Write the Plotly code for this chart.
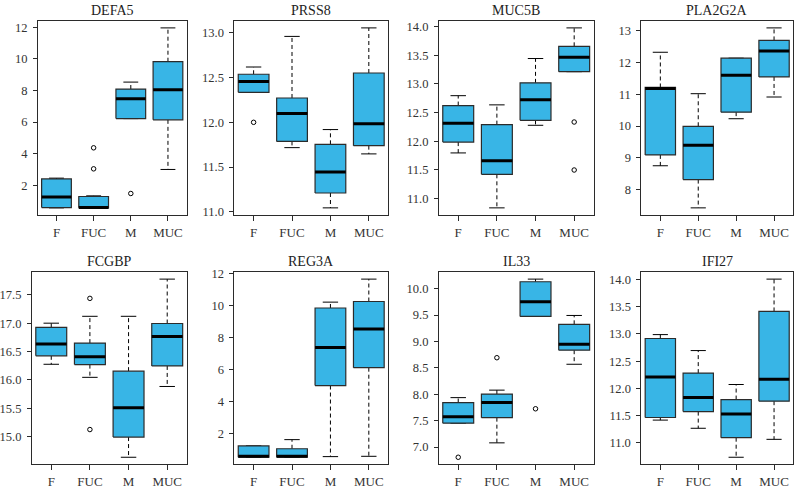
import plotly.graph_objects as go

groups = ["F", "FUC", "M", "MUC"]
genes = ["DEFA5", "PRSS8", "MUC5B", "PLA2G2A", "FCGBP", "REG3A", "IL33", "IFI27"]

# five-number summaries per group: [lower whisker, q1, median, q3, upper whisker]
defa5 = [[0.57, 0.59, 1.25, 2.40, 2.45], [0.57, 0.57, 0.60, 1.29, 1.33],
         [6.22, 6.22, 7.47, 8.09, 8.53], [3.00, 6.14, 8.05, 9.82, 11.96]]
prss8 = [[12.335, 12.335, 12.456, 12.537, 12.618], [11.717, 11.787, 12.099, 12.272, 12.96],
         [11.044, 11.21, 11.445, 11.754, 11.919], [11.647, 11.739, 11.985, 12.551, 13.055]]
muc5b = [[11.797, 11.986, 12.313, 12.623, 12.795], [10.839, 11.424, 11.659, 12.29, 12.635],
         [12.279, 12.365, 12.726, 13.019, 13.443], [13.214, 13.214, 13.466, 13.656, 13.977]]
pla2g2a = [[8.754, 9.095, 11.18, 11.213, 12.318], [7.432, 8.32, 9.395, 9.994, 11.017],
           [10.231, 10.438, 11.595, 12.132, 12.132], [10.913, 11.543, 12.36, 12.69, 13.083]]
fcgbp = [[16.276, 16.425, 16.632, 16.925, 17.0], [16.046, 16.27, 16.408, 16.649, 17.121],
         [14.638, 14.994, 15.511, 16.155, 17.121], [15.885, 16.247, 16.764, 16.994, 17.776]]
reg3a = [[0.52, 0.52, 0.58, 1.23, 1.23], [0.52, 0.52, 0.58, 1.05, 1.62],
         [0.56, 4.996, 7.364, 9.834, 10.2], [0.58, 6.109, 8.518, 10.239, 11.636]]
il33 = [[7.452, 7.452, 7.576, 7.843, 7.936], [7.08, 7.557, 7.843, 8.004, 8.078],
        [9.473, 9.473, 9.752, 10.13, 10.18], [8.568, 8.834, 8.946, 9.324, 9.492]]
ifi27 = [[11.419, 11.467, 12.21, 12.916, 12.988], [11.269, 11.575, 11.832, 12.281, 12.695],
         [10.737, 11.096, 11.533, 11.796, 12.072], [11.066, 11.766, 12.168, 13.413, 14.006]]

# outlying points per group
defa5_out = [[], [4.37, 3.04], [1.48], []]
prss8_out = [[12.0], [], [], []]
muc5b_out = [[], [], [], [12.336, 11.499]]
pla2g2a_out = [[], [], [], []]
fcgbp_out = [[], [17.437, 15.126], [], []]
reg3a_out = [[], [], [], []]
il33_out = [[6.807], [8.692], [7.725], []]
ifi27_out = [[], [], [], []]

# y tick step per gene
tick_step = [2, 0.5, 0.5, 1, 0.5, 2, 0.5, 0.5]

stats = [defa5, prss8, muc5b, pla2g2a, fcgbp, reg3a, il33, ifi27]
outs = [defa5_out, prss8_out, muc5b_out, pla2g2a_out, fcgbp_out, reg3a_out, il33_out, ifi27_out]

W, H = 796, 489
# panel frames in pixels (left, right, top, bottom)
col_px = [(36, 185), (233, 387), (438, 593), (641, 793)]
row_px = [(16, 214), (272, 468)]

FILL = "#38B5E6"
EDGE = "#2b2b2b"
FONT = "Times New Roman, Liberation Serif, DejaVu Serif, serif"

fig = go.Figure()
layout = {}
annotations = []

for k, gene in enumerate(genes):
    r, c = divmod(k, 4)
    ax = "" if k == 0 else str(k + 1)
    xref, yref = "x" + ax, "y" + ax
    left, right = col_px[c]
    if k == 4:
        left = 30
    top, bottom = row_px[r]
    xdom = [left / W, right / W]
    ydom = [1 - bottom / H, 1 - top / H]

    s = stats[k]
    o = outs[k]
    allv = [v for row in s for v in row] + [v for row in o for v in row]
    lo, hi = min(allv), max(allv)
    pad = 0.04 * (hi - lo)

    wx, wy, sx, sy, mx, my, ox, oy = [], [], [], [], [], [], [], []
    for i, (wl, q1, med, q3, wh) in enumerate(s):
        x = i + 1
        if wh > q3:
            wx += [x, x, None]; wy += [q3, wh, None]
        if wl < q1:
            wx += [x, x, None]; wy += [q1, wl, None]
        sx += [x - 0.2, x + 0.2, None, x - 0.2, x + 0.2, None]
        sy += [wh, wh, None, wl, wl, None]
        mx += [x - 0.4, x + 0.4, None]; my += [med, med, None]
        for v in o[i]:
            ox.append(x); oy.append(v)

    common = dict(xaxis=xref, yaxis=yref, showlegend=False, hoverinfo="skip")
    fig.add_trace(go.Scatter(x=wx, y=wy, mode="lines",
                             line=dict(color="black", width=1, dash="4px,3px"), **common))
    fig.add_trace(go.Scatter(x=sx, y=sy, mode="lines",
                             line=dict(color="black", width=1), **common))
    for i, (wl, q1, med, q3, wh) in enumerate(s):
        x = i + 1
        fig.add_trace(go.Scatter(x=[x - 0.4, x + 0.4, x + 0.4, x - 0.4, x - 0.4],
                                 y=[q1, q1, q3, q3, q1], mode="lines", fill="toself",
                                 fillcolor=FILL, line=dict(color=EDGE, width=1.2), **common))
    fig.add_trace(go.Scatter(x=mx, y=my, mode="lines",
                             line=dict(color="black", width=3), **common))
    if ox:
        fig.add_trace(go.Scatter(x=ox, y=oy, mode="markers",
                                 marker=dict(symbol="circle-open", size=4.5,
                                             color="black", line=dict(width=1)), **common))

    step = tick_step[k]
    layout["xaxis" + ax] = dict(
        domain=xdom, anchor=yref, range=[0.5, 4.5], tickvals=[1, 2, 3, 4], ticktext=groups,
        ticks="outside", ticklen=5, tickcolor=EDGE, showline=True, linecolor=EDGE,
        linewidth=1, mirror=True, showgrid=False, zeroline=False,
        tickfont=dict(family=FONT, size=13, color="#333"))
    layout["yaxis" + ax] = dict(
        domain=ydom, anchor=xref, range=[lo - pad, hi + pad], tick0=0, dtick=step,
        tickformat=".1f" if step < 1 else "d",
        ticks="outside", ticklen=4, tickcolor=EDGE, showline=True, linecolor=EDGE,
        linewidth=1, mirror=True, showgrid=False, zeroline=False, ticklabelstandoff=3,
        tickfont=dict(family=FONT, size=12.5, color="#333"))
    annotations.append(dict(text=gene, xref="paper", yref="paper",
                            x=(xdom[0] + xdom[1]) / 2, y=ydom[1], xanchor="center",
                            yanchor="bottom", yshift=1, showarrow=False,
                            font=dict(family=FONT, size=14, color="#222")))

fig.update_layout(width=W, height=H, margin=dict(l=0, r=0, t=0, b=0),
                  plot_bgcolor="white", paper_bgcolor="white",
                  annotations=annotations, **layout)

# drop the default page margin so the figure sits at the window's corner
fig.write_html("out.html", config={"displayModeBar": False},
               post_script="document.body.style.margin='0';")
